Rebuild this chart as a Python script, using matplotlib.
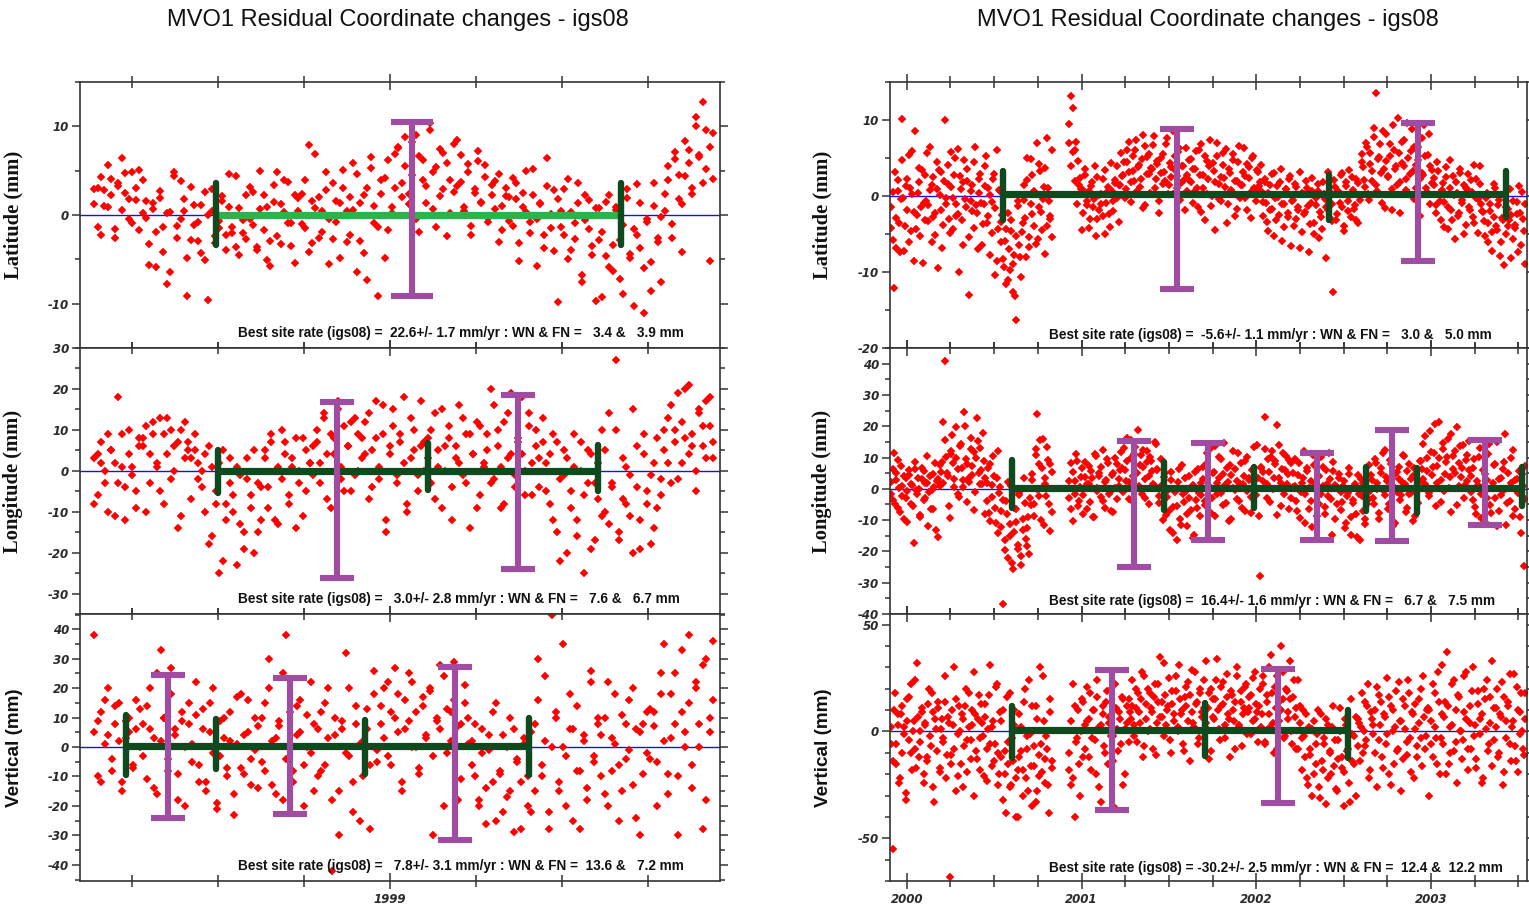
import numpy as np
import matplotlib
matplotlib.use("Agg")
import matplotlib.pyplot as plt
from matplotlib.ticker import MultipleLocator, FixedLocator, NullFormatter

plt.rcParams["axes.unicode_minus"] = False

TITLE = "MVO1 Residual Coordinate changes - igs08"
YLABELS = ["Latitude (mm)", "Longitude (mm)", "Vertical (mm)"]

# ---------------- left column (1998-1999): two interleaved passes of readings ----------------
L_SPAN = (1998.14, 1999.94)
L_LAT = [1.2, 3.1, -2.3, 2.8, 0.9, 4.1, -1.6, 3.3, 6.4, 2.5, -0.5, 4.8, 1.7, -1.7, 3.9,
         -0.3, -5.6, 1.4, -1.9, 1.9, -4.2, 0.2, -6.4, 4.4, -1.2, 3.8, 0.5, -9.1, -2.8, 1.1,
         -0.8, -4.3, 2.6, -9.6, 0.4, -2.4, -1.5, 2.1, -3.9, 0.9, -2.0, 4.4, -4.5, -0.6, -2.7,
         3.2, -1.1, -3.6, 0.7, 2.2, -5.1, -2.9, 1.5, 4.8, -3.3, 0.3, 3.7, -0.9, -5.4, 1.9,
         2.4, -1.5, 7.9, -3.2, 0.8, 2.0, -1.9, 4.9, -0.4, -2.7, 1.6, -4.8, 3.0, 0.5, -2.2,
         5.9, -6.4, 1.3, -4.3, 3.1, 6.5, -0.9, -9.1, 2.4, 4.2, -1.7, 0.9, 6.9, 7.5, 3.6,
         8.8, 1.2, 4.5, 9.0, -1.9, 6.2, 3.3, 10.4, 0.7, 5.4, 2.1, 7.0, -2.4, 4.0, 2.6,
         8.5, 3.7, 0.4, 5.8, -1.2, 2.9, 6.1, 1.5, 4.3, -0.8, 2.3, 3.8, -3.1, 1.0, 3.0,
         -0.7, 4.2, 1.8, -5.2, 2.5, 0.3, -2.0, 5.2, -0.4, 1.2, -3.7, 6.4, -1.5, 2.8, -9.8,
         0.4, -2.2, 4.1, -3.9, -0.9, 1.3, -6.8, 2.2, -1.6, -4.5, 0.8, -2.8, -9.3, 1.5, -5.9,
         -3.4, 0.6, -7.2, -1.1, 2.9, -4.4, -10.3, -2.3, 1.3, -6.0, -0.8, -8.6, 3.6, -3.0, -0.2,
         2.4, 5.5, -1.0, 6.3, 1.8, -4.2, 4.4, 7.3, 3.0, 10.0, 6.5, 12.8, 5.2, -5.2, 9.2]
L_LAT2 = [2.9, -1.4, 4.3, 1.0, 5.6, 2.2, -2.6, 3.6, 0.6, 4.7, 1.8, -0.9, 3.0, 5.1, 0.2,
          1.6, -3.3, 0.7, -5.9, 2.7, -1.4, -7.8, 0.3, 4.9, -2.6, -0.4, 1.8, -4.9, 3.2, -1.1,
          -2.9, 1.1, -5.1, 0.0, 2.9, -3.2, -0.7, 1.6, -2.3, 4.6, -1.4, -3.6, 0.8, -2.0, 2.2,
          -0.5, 2.6, -3.9, 5.0, -1.7, 0.9, -5.8, 3.4, -2.4, 1.2, 4.0, -0.9, -3.5, 2.3, 0.5,
          -1.0, 3.9, -4.2, 1.6, 6.9, -2.6, 0.4, 2.8, -5.5, 3.6, -0.8, 1.4, 5.1, -3.1, 2.0,
          0.6, 4.6, -2.9, 2.2, -7.3, 5.3, 1.0, -1.3, 3.9, -4.9, 6.2, 0.2, 3.0, 7.7, 2.0,
          5.5, 2.4, 8.2, -0.5, 6.6, 3.9, 1.3, 9.6, 4.8, -1.3, 7.4, 2.9, 5.9, 0.2, 8.0,
          3.3, 6.8, 0.9, 4.9, -2.2, 2.5, 7.2, 1.4, 5.6, -0.3, 3.4, 0.7, 4.6, -1.7, 2.1,
          2.0, -1.2, 3.6, -3.2, 0.9, 5.0, -0.8, 2.3, -5.8, 1.4, -2.3, 3.3, 0.1, -4.1, 1.8,
          -1.3, 2.9, -5.0, 0.3, -2.7, 3.6, -7.6, -0.6, 1.7, -3.5, -9.7, 0.8, -1.9, -4.6, 2.2,
          -6.3, 0.9, -2.8, -8.9, 1.9, -4.9, -1.6, 3.5, -3.7, -11.0, -0.5, -5.3, 1.0, -2.6, -7.6,
          0.5, 3.9, -2.6, 7.1, 4.5, 1.2, 8.3, 5.9, 2.4, 11.0, 6.8, 3.6, 9.6, 7.7, 4.1]
L_LON = [-8, 4, 2, -3, 9, 5, -11, 18, 1, -4, 10, -1, -9, 6,
         8, -10, 4, 12, 1, -5, 9, 13, -2, 6, -14, 10, 3, 7, -7, 5, 2,
         -4, 4, -18, 1, -8, -25, 5, -12, -3,
         -10, -23, -1, -15, 3, -6, -20, -3, -12,
         5, -4, 9, -12, 1, -2, 7, -8, 3, -14, 0, 8, -5, 2, 6,
         10, -3, 13, 4, -9, 8, 15, 1, -5, 6, 12, -1, 9, 3,
         12, -7, 5, 17, -2, 9, -12, 4, 15, -1, 7, 18, -10, 3, 10, -5, 6, 0,
         8, -3, 14, 1, -9, 6, 11, -4, 3, 16, -1, 9, -14, 4, 12, -6, 2,
         5, 20, -2, 10, 1, -8, 14, 4, -4, 7, 18, 0, 11, -6, 6, 3, 13,
         2, -8, 9, -15, -2, 5, -20, -5, 1, -12, 7, -25, -3, 4, -17, -7, 10,
         -10, 14, -4, 27, -15, 3, -8, -1, -20, 6, -12, 9, -5, -18, 2, -9, -2,
         5, 13, -3, 10, 19, 2, 8, 21, 6, -5, 15, 11, 3, 18, 7]
L_LON2 = [3, -6, 7, 0, -10, 5, 2, -3, 9, -12, 4, 1, -5, 8,
          6, 11, -3, 9, 2, 13, -8, 4, 10, 0, 7, -11, 12, 5, 3, 9, -2,
          0, -10, 6, -16, -5, 2, -22, -8, 3,
          -6, 1, -13, -19, -2, -9, 5, -15, -4,
          3, -9, 7, 0, -13, 10, 4, -6, 1, 8, -3, -11, 5, 2, -1,
          7, 2, 14, -7, 9, 4, 17, -2, 11, 6, -5, 13, 0, 8,
          4, 14, -4, 8, 1, 16, -15, 6, 11, -3, 9, 2, -8, 13, 5, -1, 17, 7,
          3, 10, -7, 5, 15, 0, 8, -12, 6, 2, 13, -3, 9, 4, -9, 11, 1,
          9, -3, 16, 6, -9, 12, 3, 19, -1, 8, 4, -6, 14, 2, 10, -4, 7,
          -5, 4, -12, 7, -22, -1, 3, -9, 9, -16, 0, -6, 5, -19, -3, 2, -11,
          5, -13, -3, 10, -17, -7, 1, -11, 15, -4, -19, 4, -8, -1, -14, 8, -6,
          10, 2, 16, 7, -2, 12, 20, 4, 9, 0, 14, 6, 17, 11, 3]
L_VERT = [38, 9, -12, 16, 4, -8, 14, 2, -15, 9, 5, -7, 16, 0,
          8, -11, 20, 3, -16, 33, 10, -4, 27, 6, -9, 12, -20, 8, 1, 22, -6,
          13, -15, 5, 20, -21, -3, 10, -10, 2, -23, 17, -7, 4, 16, -13, -1, 7,
          -5, 15, 30, -13, 3, 9, -18, 38, 1, -8, 14, 5, -20, 11, -2, 8, -10,
          12, -6, 20, -42, 4, -15, 9, 32, -3, -22, 14, 1, -10, 6, -28, 18, -5,
          8, 20, -3, 12, 27, 5, -12, 16, 9, 22, 0, -7, 14, 3, 19, -30, 10, 6, 24, -2, 12, 29, -18, 8, 15, 1,
          2, -10, -20, 6, -14, -1, 12, -25, -8, 4, -17, 10, -29, -5, -12, 1, -20,
          -22, 8, 30, -10, 2, -28, 45, 12, -15, 0, -20, 18, 6, -8, -28, 4, -14, 22, -3, 10,
          4, -16, 22, -8, 1, -25, 11, -4, 16, -13, 6, -30, 8, -2, 13,
          7, -20, 18, 35, -9, 3, 25, -30, 12, 0, 38, -14, 20, 8, -28, 30, 5, 16]
L_VERT2 = [5, -10, 12, 1, 20, -4, 8, 15, -12, 3, 10, -6, 6, 13,
           -3, 14, 6, -14, 25, 2, 10, -8, 18, 4, -18, 9, 0, 15, -5, 11, -12,
           6, -12, 15, -2, -19, 9, 3, -7, 12, -16, 1, 18, -9, 5, -4, 10, -14,
           10, -8, 20, 2, -16, 7, 25, -4, 12, -12, 4, 16, -6, 0, 22, -15, 6,
           -8, 15, 3, -18, 10, -30, 6, -2, 20, -12, 8, -25, 2, 13, -6, 26, -1,
           14, 3, 22, -6, 10, 18, -15, 6, 25, 0, 12, -9, 17, 4, 20, -3, 9, 28, -20, 13, 2, 16, 7, -11, 21, 10,
           -6, 8, -18, -2, -26, 4, -12, 15, -9, -22, 0, -15, 6, -4, -28, 3, -10,
           5, -15, 16, -6, 24, -22, 0, 10, -12, 35, -3, 6, -25, 14, -8, 2, -18, 26, -5, 8,
           -10, 10, -20, 3, 18, -6, -15, 8, -1, 20, -24, 5, -9, 12, -4,
           12, -5, 25, 2, -16, 18, 8, -10, 33, 5, 15, -6, 22, 0, 28, -18, 10, 36]

# ---------------- right column (2000-2003): two observation spans, two passes each ----------------
R_SPANS = [(1999.91, 2000.83), (2000.93, 2003.54)]
R_LAT_A = [-4.2, 0.5, -12.1, -6.8, 2.1, -3.5, -0.4, 10.1, -7.2, 1.3, -1.8, 5.4, -4.6, 0.2, -8.5, 8.6,
           -2.5, 1.8, -5.2, 3.4, -0.9, -3.1, 5.7, -1.2, 0.8, -6.1, 2.5, -2.2, 4.5, -9.5, 0.1, 3.1,
           -3.8, 10.0, -1.1, 1.6, -4.9, 5.8, -0.3, 2.8, -2.6, 6.2, -10.0,
           0.9, -6.4, 4.7, -1.5, 2.0, -13.0, -0.6, 1.4, -4.2, 6.5, -2.3, 0.4, 2.9, -6.5, -1.0, 4.0,
           -3.6, 1.1, -7.7, -0.8, 2.2, -10.4, 6.0, -4.4, 0.6,
           -3.4, -8.3, -5.9, -11.6, -2.2, -9.7, -4.6, -12.6, -7.8, -16.3, -1.3, -6.4, -10.7,
           -3.6, -0.5, -8.0, 2.1, -5.4, 4.9, -2.4, 0.6, -6.3, 7.0, -1.5, 3.3, -4.5, 1.2, -7.6, 7.6,
           -0.7, -3.0, -5.4]
R_LAT_A2 = [-1.5, -5.8, 3.2, -2.9, 0.6, -7.4, 4.8, -0.2, -3.9, 2.2, -6.0, 1.0, 5.9, -2.1, -4.3, 0.4,
            3.7, -1.4, -8.8, 2.7, -0.6, -3.3, 6.4, 1.5, -2.7, -5.1, 0.9, 3.4, -1.8, -6.9, 2.0, -0.3,
            4.1, -3.0, 1.2, -4.4, 5.0, -1.0, -2.4, 2.6,
            -3.1, 1.8, -0.4, 3.6, -5.4, 0.7, -2.0, 4.5, -1.2, -7.0, 2.3, -0.9, -3.7, 1.3, 5.2, -2.6,
            0.1, -4.9, 2.9, -1.6, -8.6, 0.8,
            -6.1, -2.5, -9.3, -4.4, -11.0, -7.0, -3.1, -8.9, -13.2, -5.2, -0.6, -8.0,
            -4.8, 1.5, -2.9, 5.0, -6.7, -1.0, 2.7, -3.9, 0.2, -5.6, 4.2, -2.1, -0.4, 3.7, -4.0, 1.0,
            -2.6, 6.1]
R_LAT_B = [9.5, 13.2, 11.6, 6.0, 7.1, 4.6, 2.4, -4.5, 0.8, 3.6,
           -1.2, 0.6, -3.0, 1.9, -0.4, -5.2, 2.5, -1.8, 0.3, -2.6, 3.4, -0.9, 1.2, -4.1, 0.7, -2.0,
           2.1, -0.2, -3.4, 1.5,
           2.6, 4.5, 0.9, 6.1, 3.2, -0.8, 5.3, 2.0, 7.4, 3.8, 1.2, 4.9, -1.6, 6.6, 2.9, 5.5, 0.4,
           3.6, 7.9, 2.2, 4.2, -2.2, 5.0, 1.6, 3.1, 6.9, 0.2, 4.4, 2.5, 8.6, 3.4, 1.0, 5.8, -0.5,
           3.9, 2.1, 6.3, 0.7, 4.7, 1.8,
           3.6, 0.5, 5.9, -1.5, 2.8, 6.8, 1.1, -3.2, 4.6, 2.2, 7.4, 0.0, 3.3, -4.5, 5.2, 1.6, -0.7,
           4.1, 2.4, 6.2, -1.0, 3.0, 0.8, 5.5, -2.6, 2.0, 4.5, -0.3, 1.4, 6.3, 2.6, -1.8, 3.8, 0.5,
           5.0, 1.1, -0.6, 3.2, 1.9, 4.1,
           -0.8, 1.9, -3.4, 0.4, -1.8, 2.9, -5.2, -0.3, 1.3, -2.5, 3.6, -1.0, -4.1, 0.9, -2.2, 2.3,
           -6.6, -0.5, 1.6, -3.0, -1.5, 3.2, -4.8, 0.2, -2.1, 1.0, -7.4, -0.9, 2.4, -3.6, -1.2, 0.7,
           -5.5, -2.7, 1.8, -0.4, -8.1, -1.9, 0.5, -3.3,
           -12.6, 1.2, -2.4, 0.3, 2.8, -1.5, -4.0, 1.9, -0.6, 3.4, -2.8, 0.8, -1.2, 2.2, -3.5, 0.0, 5.5,
           3.8, 1.2, 6.5, -0.5, 4.2, 2.0, 7.8, 13.5, 0.6, 5.1, 3.0, 8.6, -1.6, 4.6, 2.5, 6.8, 0.9,
           9.3, 3.6, 1.5, 5.7, -2.2, 7.1, 4.0, 2.2, 9.6, 0.3, 5.9, 3.3, 6.4, 1.0, 4.8, -2.6, 7.6,
           2.8, 5.2, 0.5, 8.2, 3.9, 1.7,
           2.4, -1.2, 4.5, 0.3, -3.1, 1.7, -0.8, 3.8, -4.4, 1.0, -1.9, 2.6, -5.6, 0.4, -2.3, 3.0,
           -0.5, 1.4, -3.8, 0.9, -1.4, 2.1, -2.8, 4.1, -0.2, -4.9, 1.6, -1.0,
           -2.1, -5.3, 0.4, -3.6, -1.0, -7.2, -2.8, 1.1, -4.5, -0.5, -6.1, -3.2, -9.1, -1.5, -4.0,
           0.9, -2.5, -5.7, -3.8, -0.8, -7.4, -2.2, 0.5, -4.6, -9.0]
R_LAT_B2 = [7.0, 4.0, 5.8, 2.0, -1.0, 1.5,
            0.9, -2.3, 2.7, -0.7, -4.2, 1.3, -1.5, 3.9, -3.0, 0.1, -1.0, 2.2, -5.0, 0.5, -2.4, 4.4,
            -0.6, 1.7,
            3.9, 1.5, 5.7, 2.7, -0.3, 4.5, 7.1, 1.9, 3.3, 6.0, 0.7, 4.1, 2.3, 8.0, -1.2, 5.1, 2.9,
            3.7, 6.7, 1.1, 4.6, -0.6, 3.0, 5.5, 2.0, 7.6, 1.4, 3.8, 0.3, 5.2, 2.6, 6.3, 1.7, 4.0,
            -1.9, 2.8,
            2.1, 4.9, -0.9, 3.5, 1.0, 6.0, -2.1, 2.8, 5.2, 0.3, 3.9, -1.3, 4.4, 1.8, 7.0, -0.4, 2.5,
            5.7, 1.2, -3.6, 3.6, 0.6, 4.8, 2.0, -1.7, 6.6, 1.5, 3.1, -0.2, 4.2, 2.4, -2.9, 5.3, 0.9,
            3.4, 1.3,
            0.7, -2.6, 2.2, -0.9, -4.6, 1.4, -1.7, 3.0, -3.2, -0.1, 1.9, -5.9, -1.1, 0.9, -2.8, 2.6,
            -0.6, -4.0, 1.2, -1.9, -6.9, 0.4, -2.4, 2.0, -1.3, -3.7, 0.6, -5.0, -0.3, 1.6, -2.1, -4.4,
            0.2, -1.5, 3.1, -2.9,
            -1.0, 2.1, -3.2, 0.7, -0.9, 3.0, -4.6, 1.3, -2.0, 0.1, 2.5, -1.7, -3.1, 1.7, -0.5,
            4.5, 2.1, 7.0, 0.2, 5.6, 3.3, 9.0, 1.4, 4.9, 6.9, -0.9, 3.6, 8.1, 2.6, 5.3, -1.8, 6.1,
            3.9, 10.2, 1.9, 4.4, 7.4, 0.8, 5.0, 2.9, 8.8, -0.4, 4.1, 6.5, 2.3, 3.0, 9.4, 1.0, 5.4,
            -1.1, 3.4,
            1.4, -2.2, 3.3, -0.6, 0.8, -4.1, 2.5, -1.5, 4.8, -3.1, 0.1, 1.9, -2.6, 3.6, -0.9, -5.0,
            1.1, 2.9, -1.8, 0.5, -3.5, 2.2, -0.4, 3.9, -2.0,
            -3.3, -0.3, -6.0, -2.0, -4.7, 1.6, -3.9, -1.2, -7.9, -2.9, 0.2, -5.0, -1.7, -3.2, -8.2,
            -0.6, -4.2, -2.4, 1.3, -6.5, -3.0, -1.1]
R_LON_A = [2.1, -3.5, 11.3, 5.2, -6.1, 0.4, 7.4, -2.3, -9.8, 3.6, -0.8, 4.5, -4.9, 1.2, -17.4, 6.3,
           -1.6, 0.0, -8.5, 3.1, 5.6, -3.0, 1.9, -12.0, 4.2, -0.5, -6.6, 8.2, 2.6, -15.3, 0.9,
           5.5, 21.4, 40.8, 10.2, 4.1, -9.2, 12.1, 8.3, 0.6, 19.8, 6.4, -2.5, 14.4, 2.8, 24.4, 9.5,
           -4.2, 3.6, 16.4, 7.2, 11.8, -1.0, 22.6, 4.9, 13.0, 1.5, 8.8, -8.0,
           -3.8, 6.5, -10.2, 1.2, 10.6, -6.0, 3.3, -14.1, 0.5,
           -7.2, -36.7, -16.5, -4.0, -22.1, -11.2, 0.8, -25.6, -13.8, -6.4, -19.3, -2.1, -24.4,
           -9.7, 3.5, -16.0, -12.5, -20.7, -5.3,
           4.6, -8.6, 10.9, 23.9, -2.3, 15.5, 6.8, -11.7, 1.5, 13.5, -4.8, 8.0, -7.4]
R_LON_A2 = [-1.5, 6.3, -4.8, 2.7, 9.1, -7.3, 0.8, 4.0, -2.8, -10.5, 5.9, 1.4, -5.5, 8.6, -0.3, 3.3,
            -8.9, 6.8, -3.6, 1.9, 10.4, -1.1, -6.4, 4.7, 0.5, -13.2, 3.0, 7.5,
            8.6, 2.0, 15.5, 5.0, -5.6, 11.0, 17.2, 3.0, 9.8, -1.7, 13.7, 6.6, 0.7, 20.2, 7.8, 2.2,
            12.6, 4.4, -6.9, 10.0, 15.3, 1.6, 6.0, 17.8, 3.4,
            1.8, -7.8, 8.0, -2.6, 4.2, -11.0, 12.0, -1.2,
            -12.3, -3.6, -19.5, -8.2, 2.2, -15.1, -23.7, -6.2, -10.6, -17.8, -1.4, -21.6, -13.1,
            -4.5, -18.2, -9.0, -2.8,
            2.9, -5.0, 12.6, 0.1, 7.8, -10.1, 16.0, 3.5, -2.4, 9.3, -13.6, 5.4]
R_LON_B = [-3.0, 8.1, -10.2, 2.4, 11.2, -5.5, 0.6, 6.5, -8.0, 3.8,
           1.5, 7.2, -4.3, 3.6, -9.0, 10.6, 0.2, 5.1, -2.6, 12.3, -6.2, 2.8, 8.4, -1.0, 4.4, -7.5,
           9.8, -3.3, 0.9, 6.0,
           6.8, 13.2, 2.4, 9.0, -3.1, 15.5, 4.2, 11.0, 0.5, 18.8, 7.5, -1.6, 12.4, 3.2, 8.6, -4.8,
           10.2, 5.7, 1.3, 14.4, 6.3, -2.2, 9.4,
           -2.5, 3.8, -8.4, -0.4, -13.0, 5.3, -5.8, -1.1, -16.4, 2.2, -9.6, 7.6, -4.1, -0.7, -11.8,
           4.0, -6.9, 1.1, -14.7, -3.5, 6.2, -8.8, -2.0,
           3.1, -5.3, 8.2, 0.5, 12.6, -2.8, 5.4, -8.7, 1.9, 10.3, -1.2, 4.7, 14.6, -4.6, 2.2, 7.5,
           -9.8, 0.4, 6.3, -3.4, 11.5, 1.6, -6.0, 4.1, 8.9, -0.8, 2.8, -7.6, 5.9, 13.3, -2.1, 3.5,
           -28.0, 6.7,
           5.5, 22.8, 1.4, 9.6, -4.3, 12.2, 3.3, 7.8, -8.4, 14.0, 2.0, 6.4, -1.8, 10.5, 4.6, -6.5, 8.2,
           0.6, 9.4, -3.8, 4.5, -9.2, 1.8, 12.1, -1.5, 5.6, -6.4, 2.6, -12.3, 7.7, -0.3, 3.9, -4.7,
           10.2, 0.9, -8.1, 6.0, -2.2, 3.0, -14.9, 8.6, 1.3, -5.0, 4.8, -1.0,
           -4.2, 2.5, -10.8, -1.2, 6.8, -14.6, -3.7, 0.6, -7.9, 4.4, -16.2, -2.4, 1.8, -9.5, -5.0,
           7.5, -0.8,
           2.8, -4.9, 8.1, 0.0, -9.8, 5.2, 11.6, -2.1, 3.7, -6.6, 9.3, 1.1, -12.0, 4.6, -0.9, 7.0,
           -3.6, 2.2, 10.4, -7.3, 5.8, -1.5, 3.1, -10.4, 6.6, 0.4, -4.4, 8.8,
           6.3, 14.2, 1.6, 9.8, -2.4, 18.6, 4.5, 11.3, -5.6, 7.4, 21.4, 2.9, 12.8, -0.6, 8.5, 16.0,
           3.7, -7.4, 10.6, 5.2, 19.6, 0.8, 13.8, 6.6, -3.0, 9.1, 2.4, 15.2,
           4.2, -3.6, 9.5, -8.2, 1.3, 13.1, -1.8, 6.0, -10.5, 2.7, 11.0, -5.3, 0.4, 7.7, -2.9, 15.0,
           -7.0, 3.4, -0.6, 8.6, -11.6, 5.1, -4.0, 1.9, 12.3, -6.4, 3.0, -1.2, -9.0, 4.6, -24.7, -3.2]
R_LON_B2 = [2.6, -6.3, 5.4, -1.6, 8.8, -3.9,
            3.9, -2.0, 8.7, -6.4, 1.4, 5.8, -9.1, 11.0, -0.6, 4.2, 7.1, -4.0, 2.1, 9.6, -1.8, -7.0,
            5.0, 0.3,
            8.0, 3.1, 11.8, -1.0, 6.1, 16.4, 2.2, 9.8, -4.1, 13.4, 5.2, 0.8, 10.9, 7.0, -2.8, 12.1,
            4.0, 8.9, 1.7, 14.9, 5.9,
            -4.6, 1.0, -10.1, 4.9, -2.6, -7.2, 2.9, -14.0, -0.6, -5.6, 6.4, -11.5, -1.6, 3.4, -8.0,
            -3.0, 0.2, -15.6, 5.4, -6.2, -1.4,
            2.0, 7.1, -3.9, 11.3, 0.9, -7.8, 5.2, 13.6, -1.7, 3.6, 9.6, -5.1, 1.2, 6.8, -10.3, 4.5,
            12.0, -0.4, 2.6, -4.0, 8.1, 1.7, -7.0, 10.1, 3.4, -2.6, 6.2, 0.2, 14.0, -8.6,
            7.0, 2.5, 12.6, -2.9, 5.5, 10.1, 0.1, 8.8, 20.5, 3.5, -5.4, 11.5, 6.0, 1.6, 9.2,
            -2.9, 5.0, 1.0, -7.2, 8.2, -0.9, 3.6, -11.0, 6.5, 0.3, -4.0, 10.7, 2.0, -8.8, 4.2, -1.6,
            7.0, -5.8, 1.4, 11.5, -3.2, 5.7, -9.6, 0.6, 3.4,
            -6.8, 0.8, -12.6, -2.2, 4.8, -9.0, -4.5, 1.5, -15.5, -1.5, 3.2, -7.0, -11.2, 0.0, -3.3,
            4.5, -2.8, 9.4, 1.8, -7.6, 6.5, -0.4, 12.5, 2.6, -4.7, 7.9, 0.7, -10.8, 5.4, 3.0, -2.1,
            10.8, 1.5, -6.0, 8.0, -1.2, 4.0, -8.6, 6.1, 2.3,
            8.8, 3.0, 16.8, 5.6, -1.2, 11.9, 7.0, 20.6, 2.0, 9.9, -4.2, 14.5, 4.8, 10.2, 0.2, 17.5,
            6.3, 12.0, -5.2, 8.2, 3.8, 14.0, 1.2, 10.8, 5.9,
            -1.0, 6.8, -5.8, 2.5, 10.2, -9.4, 0.6, 4.8, -3.0, 14.2, -7.6, 1.9, 8.0, -12.0, 3.2, -2.0,
            6.4, 17.6, -4.6, 0.2, 9.7, -8.8, 2.9, -0.7, 5.6, -14.0, 1.0, 7.2]
R_VERT_A = [-6, -55, 10, -15, 3, -24, 8, -10, 2, -32, 15, -4, 22, -18, 5, -8, 32, -12, 0, 9,
            -20, 4, -14, 13, -2, 18, -26, 6, -9, 11, -17, 1, -5, 14, -22, 7, -68, -11, 3, 30,
            -28, -1, 12, -15, 6, -7, 20, -19, 2, -4, 10, -30, 8, -13, 17, -3, 4, -21, 13, -8,
            1, 31, -16, 5, -6, 22, -25, 9,
            -12, 10, -20, -38, -5, 18, -25, -14, 3, -40, -18, 8, -9, -30, 14, -22, -2, 24, -16,
            -35, -7, 12, -28, -11, 30, -19, 5, -24, -8, -38, 15, -14]
R_VERT_A2 = [2, -14, 18, -6, 8, -22, 12, -1, -29, 5, 16, -10, 0, 24, -17, 7, -5, 11, -24, 3,
             -12, 20, -7, 9, -33, 1, 14, -19, 6, -3, 26, -11, 4, -15, 10, -8, 15, -21, 0, 8,
             -26, 12, -4, 18, -13, 3, 28, -9, 6, -18, 13, -2, 7, -23, 17, -6, 2, -14, 21, -10,
             -20, 5, -32, -9, 16, -15, -26, -3, 10, -22, -40, -12, 2, -18, 20, -8, -28, -1, 12,
             -16, -33, 6, -21, -6, 26, -13, -2, -25, 9, -17]
R_VERT_B = [-18, -25, 22, -40, -5, 10, -30, 15, -12, 3,
            5, -12, 18, -3, 10, -20, 24, 2, -33, 8, -7, 14, -15, 4, 20, -2, -36, 11, -9, 6, 16,
            -25, 1, 12, -5, 9,
            12, 3, 20, -5, 9, 15, -12, 26, 6, 0, 18, 11, -8, 22, 4, 14, 35, 7, -2, 17, 10, 25,
            -10, 13, 5, 19, 2, 31, 8, -6, 16, 12, 23, -14, 9, 4, 28, 14, -3, 20, 7, 11, 33, 1,
            18, -9, 15, 6, 24, 10, -4, 21, 13, 3, 27, 8, -12, 17, 5, 14, 30, 2, 19, -7, 11, 22,
            9, 16, -1, 25, 6, 13, -5, 20,
            8, 22, -6, 14, 30, 2, 18, -10, 11, 26, 5, 40, 15, -3, 20, 9, 33, 0, 16, 7, -8, 24, 12,
            -3, 10, -12, -22, 2, -8, -30, 5, -15, -1, -26, 8, -18, -6, -34, 3, -10, -20, 12, -4,
            -28, -13, 0, -17, -35, 6, -9, -24, 15, -14, -2, -30, -7, 4,
            2, -10, 14, -4, 22, -18, 6, -1, 10, -26, 17, 3, -12, 8, -6, 25, -20, 12, 0, -15, 19,
            -8, 5, -28, 15, 1, -11, 24, -3, 9, -22, 13, -7, 4, 20, -16, 7, -2, 11, -30,
            5, -12, 18, -3, 28, -20, 8, -6, 14, 37, -15, 2, 22, -9, 10, -24, 16, 0, -4, 26, 6,
            -18, 12, -8, 30, 3, -13, 19, -1, 8, -22, 15, 24, -6, 4, -16, 11, 2, 20, -10, 7, -25,
            16, -3, 12, 27, -14, 5, -7, 21, -19, 9, 0, -11, 18]
R_VERT_B2 = [-10, 5, -22, 12, -3, -15,
             0, 14, -8, 21, 6, -18, 10, -4, 16, -26, 3, 12, -10, 19, 7, -2, -14, 22, 1, 9, -6, 15,
             -20, 4,
             15, 6, 24, -2, 11, 18, 4, 28, -7, 13, 20, 1, 9, 16, -11, 22, 7, 14, 32, 3, 12, -4, 19,
             8, 26, 0, 15, 10, -9, 21, 5, 17, 29, 2, 13, -6, 18, 9, 24, 4, 11, -13, 20, 7, 15, 34,
             1, 12, 23, -3, 16, 6, 19, 10, -8, 26, 3, 14, 8, 21, -1, 11, 17, 5, 28, 9,
             12, 2, 26, -5, 17, 8, 36, 4, 21, -8, 14, 10, 28, -2, 19, 6, 15, -6, 24, 11,
             -8, 4, -18, -2, 8, -25, -11, 1, -20, -6, 10, -31, -14, -3, 6, -22, -9, 2, -16, -27,
             -4, 11, -12, -19, 3, -8, -33, -1, -15, 7,
             6, -14, 18, 0, -7, 12, -22, 9, 3, -10, 21, -4, 14, -17, 7, -1, 16, -25, 10, 2, -9, 23,
             5, -13, 12, -5, 18, -19, 8, 1, -12, 15, -3, 26, -8, 10,
             10, -6, 22, 2, -15, 14, -3, 31, 7, -20, 12, -10, 3, 24, -5, 17, 0, -13, 9, 28, -8, 4,
             19, -2, -17, 13, 6, -24, 20, 1, -9, 16, 33, -4, 11, -12, 8, 23, -19, 5, 14, -6, 2, 27,
             -14, 10, -1, 18, -8, 6]

# ---------------- fitted segments (knot epochs, offset, knot bar bottom/top) ----------------
L_KNOTS = [[1998.494, 1999.672], [1998.500, 1999.110, 1999.605],
           [1998.233, 1998.494, 1998.927, 1999.404]]
L_KNOT_Y = [0.0, 0.0, 0.5]
L_KNOT_LO = [[-3.4, -3.4], [-5.4, -4.6, -5.0], [-9.4, -7.4, -9.0, -9.4]]
L_KNOT_HI = [[3.6, 3.6], [5.1, 6.8, 6.3], [11.0, 9.6, 9.1, 10.0]]
R_KNOTS = [[2000.551, 2002.418, 2003.430],
           [2000.602, 2001.472, 2001.987, 2002.627, 2002.919, 2003.520],
           [2000.602, 2001.706, 2002.524]]
R_KNOT_Y = [0.2, 0.2, 0.6]
R_KNOT_LO = [[-3.2, -3.2, -2.7], [-6.0, -6.7, -6.2, -7.0, -7.7, -5.4], [-12.5, -11.7, -12.3]]
R_KNOT_HI = [[3.35, 2.7, 3.35], [9.3, 8.7, 7.1, 7.0, 6.7, 7.1], [11.7, 13.4, 10.2]]

# ---------------- purple range bars (epoch, bottom, top) ----------------
L_BAR_T = [[1999.064], [1998.846, 1999.372], [1998.355, 1998.711, 1999.190]]
L_BAR_LO = [[-9.1], [-26.3, -24.1], [-24.1, -22.6, -31.7]]
L_BAR_HI = [[10.5], [16.9, 18.5], [24.5, 23.4, 27.2]]
R_BAR_T = [[2001.546, 2002.927], [2001.302, 2001.725, 2002.346, 2002.775, 2003.308],
           [2001.173, 2002.122]]
R_BAR_LO = [[-12.3, -8.6], [-25.1, -16.3, -16.3, -16.8, -11.5], [-36.7, -33.6]]
R_BAR_HI = [[8.8, 9.65], [15.3, 14.8, 11.4, 18.8, 15.7], [28.6, 29.2]]

L_RATES = ["Best site rate (igs08) =  22.6+/- 1.7 mm/yr : WN & FN =   3.4 &   3.9 mm",
           "Best site rate (igs08) =   3.0+/- 2.8 mm/yr : WN & FN =   7.6 &   6.7 mm",
           "Best site rate (igs08) =   7.8+/- 3.1 mm/yr : WN & FN =  13.6 &   7.2 mm"]
R_RATES = ["Best site rate (igs08) =  -5.6+/- 1.1 mm/yr : WN & FN =   3.0 &   5.0 mm",
           "Best site rate (igs08) =  16.4+/- 1.6 mm/yr : WN & FN =   6.7 &   7.5 mm",
           "Best site rate (igs08) = -30.2+/- 2.5 mm/yr : WN & FN =  12.4 &  12.2 mm"]

L_XLIM = (1998.099, 1999.960)
R_XLIM = (1999.904, 2003.549)
L_YLIM = [(-15, 15), (-35, 30), (-45.5, 45.2)]
R_YLIM = [(-20, 15), (-40, 45), (-70, 55)]
L_YSTEP = [(10, 5), (10, 5), (10, 5)]
R_YSTEP = [(10, 5), (10, 5), (50, 10)]
L_YEARS = [1999]
R_YEARS = [2000, 2001, 2002, 2003]


def span_times(span, n):
    return np.linspace(span[0], span[1], n)


L_T, L_V = [], []
for a, a2 in ((L_LAT, L_LAT2), (L_LON, L_LON2), (L_VERT, L_VERT2)):
    L_T.append(np.concatenate([span_times(L_SPAN, len(a)), span_times(L_SPAN, len(a2))]))
    L_V.append(np.concatenate([np.array(a, float), np.array(a2, float)]))

R_T, R_V = [], []
for a, a2, b, b2 in ((R_LAT_A, R_LAT_A2, R_LAT_B, R_LAT_B2),
                     (R_LON_A, R_LON_A2, R_LON_B, R_LON_B2),
                     (R_VERT_A, R_VERT_A2, R_VERT_B, R_VERT_B2)):
    R_T.append(np.concatenate([span_times(R_SPANS[0], len(a)), span_times(R_SPANS[0], len(a2)),
                               span_times(R_SPANS[1], len(b)), span_times(R_SPANS[1], len(b2))]))
    R_V.append(np.concatenate([np.array(a, float), np.array(a2, float),
                               np.array(b, float), np.array(b2, float)]))

W, H = 1529, 908
fig = plt.figure(figsize=(W / 100, H / 100), dpi=100)
fig.patch.set_facecolor("white")

RED = "#ff0000"
DKGREEN = "#0e4a1d"
LTGREEN = "#2db34b"
PURPLE = "#a04ca3"
BLUE = "#1010ff"
SPINE = "#333333"

rows = [(82, 348), (348, 614), (614, 881)]
cols = [(80, 720), (890, 1527)]


def make_axes(col, row):
    x0, x1 = cols[col]
    y0, y1 = rows[row]
    return fig.add_axes([x0 / W, 1 - y1 / H, (x1 - x0) / W, (y1 - y0) / H])


def draw_panel(ax, t, v, xlim, ylim, ystep, years, knots, ky, klo, khi, horiz_color,
               bt, blo, bhi, rate, ylabel, bottom, caps):
    ax.set_xlim(*xlim)
    ax.set_ylim(*ylim)
    ax.axhline(0, color=BLUE, lw=1.0, zorder=1)
    ax.plot(t, v, linestyle="none", marker="D", ms=3.8, mfc=RED, mec=RED, mew=0.3, zorder=2)
    # fitted piecewise line
    ax.plot([knots[0], knots[-1]], [ky, ky], color=horiz_color, lw=5.2,
            solid_capstyle="butt", zorder=3)
    for k, lo, hi in zip(knots, klo, khi):
        ax.plot([k, k], [lo, hi], color=DKGREEN, lw=4.6, solid_capstyle="round", zorder=4)
    # purple range bars
    for x, lo, hi in zip(bt, blo, bhi):
        yc = (lo + hi) / 2.0
        ax.errorbar([x], [yc], yerr=[[yc - lo], [hi - yc]], fmt="none", ecolor=PURPLE,
                    elinewidth=4.4, capsize=caps, capthick=4.4, zorder=5)
    ax.text(rate[1], rate[2], rate[0], transform=ax.transAxes, ha="left", va="center",
            fontsize=9.8, fontweight="bold", family="Liberation Sans", color="#111111",
            zorder=6)
    # y axis
    ax.yaxis.set_major_locator(MultipleLocator(ystep[0]))
    ax.yaxis.set_minor_locator(MultipleLocator(ystep[1]))
    ax.tick_params(axis="y", which="both", direction="out", left=True, right=True,
                   labelleft=True, labelright=False, colors=SPINE, width=1.1)
    ax.tick_params(axis="y", which="major", length=6, pad=2, labelsize=8.5)
    ax.tick_params(axis="y", which="minor", length=3.5)
    for lab in ax.get_yticklabels():
        lab.set_fontstyle("italic")
        lab.set_fontweight("bold")
        lab.set_color("#2a2a2a")
    # x axis
    ax.xaxis.set_major_locator(FixedLocator(years))
    q = np.arange(np.floor(xlim[0]), np.ceil(xlim[1]) + 0.01, 0.25)
    ax.xaxis.set_minor_locator(FixedLocator(q))
    ax.tick_params(axis="x", which="both", top=True, bottom=True, direction="inout",
                   colors=SPINE, width=1.1)
    ax.tick_params(axis="x", which="major", length=11, pad=3, labelsize=8.5)
    ax.tick_params(axis="x", which="minor", length=8)
    if bottom:
        ax.set_xticklabels([str(y) for y in years])
        for lab in ax.get_xticklabels():
            lab.set_fontstyle("italic")
            lab.set_fontweight("bold")
            lab.set_color("#2a2a2a")
    else:
        ax.xaxis.set_major_formatter(NullFormatter())
    for s in ax.spines.values():
        s.set_color(SPINE)
        s.set_linewidth(1.2)
    if ylabel.startswith("Vertical"):
        ax.set_ylabel(ylabel, fontsize=13.6, fontweight="bold", family="Liberation Sans",
                      color="#111111")
    else:
        ax.set_ylabel(ylabel, fontsize=14.8, fontweight="bold", family="Liberation Serif",
                      color="#111111")


for r in range(3):
    ax = make_axes(0, r)
    draw_panel(ax, L_T[r], L_V[r], L_XLIM, L_YLIM[r], L_YSTEP[r], L_YEARS,
               L_KNOTS[r], L_KNOT_Y[r], L_KNOT_LO[r], L_KNOT_HI[r],
               LTGREEN if r == 0 else DKGREEN,
               L_BAR_T[r], L_BAR_LO[r], L_BAR_HI[r], (L_RATES[r], 0.247, 0.056),
               YLABELS[r], r == 2, 15 if r == 0 else 12)
    ax.yaxis.set_label_coords(-57 / 640, 0.5)

    ax = make_axes(1, r)
    draw_panel(ax, R_T[r], R_V[r], R_XLIM, R_YLIM[r], R_YSTEP[r], R_YEARS,
               R_KNOTS[r], R_KNOT_Y[r], R_KNOT_LO[r], R_KNOT_HI[r], DKGREEN,
               R_BAR_T[r], R_BAR_LO[r], R_BAR_HI[r], (R_RATES[r], 0.25, 0.049),
               YLABELS[r], r == 2, 12)
    ax.yaxis.set_label_coords(-58 / 637, 0.5)

fig.text(398 / W, 1 - 20 / H, TITLE, ha="center", va="center", fontsize=17,
         family="Liberation Sans", color="#111111")
fig.text(1208 / W, 1 - 20 / H, TITLE, ha="center", va="center", fontsize=17,
         family="Liberation Sans", color="#111111")

fig.savefig("out.png", dpi=100, facecolor="white")
